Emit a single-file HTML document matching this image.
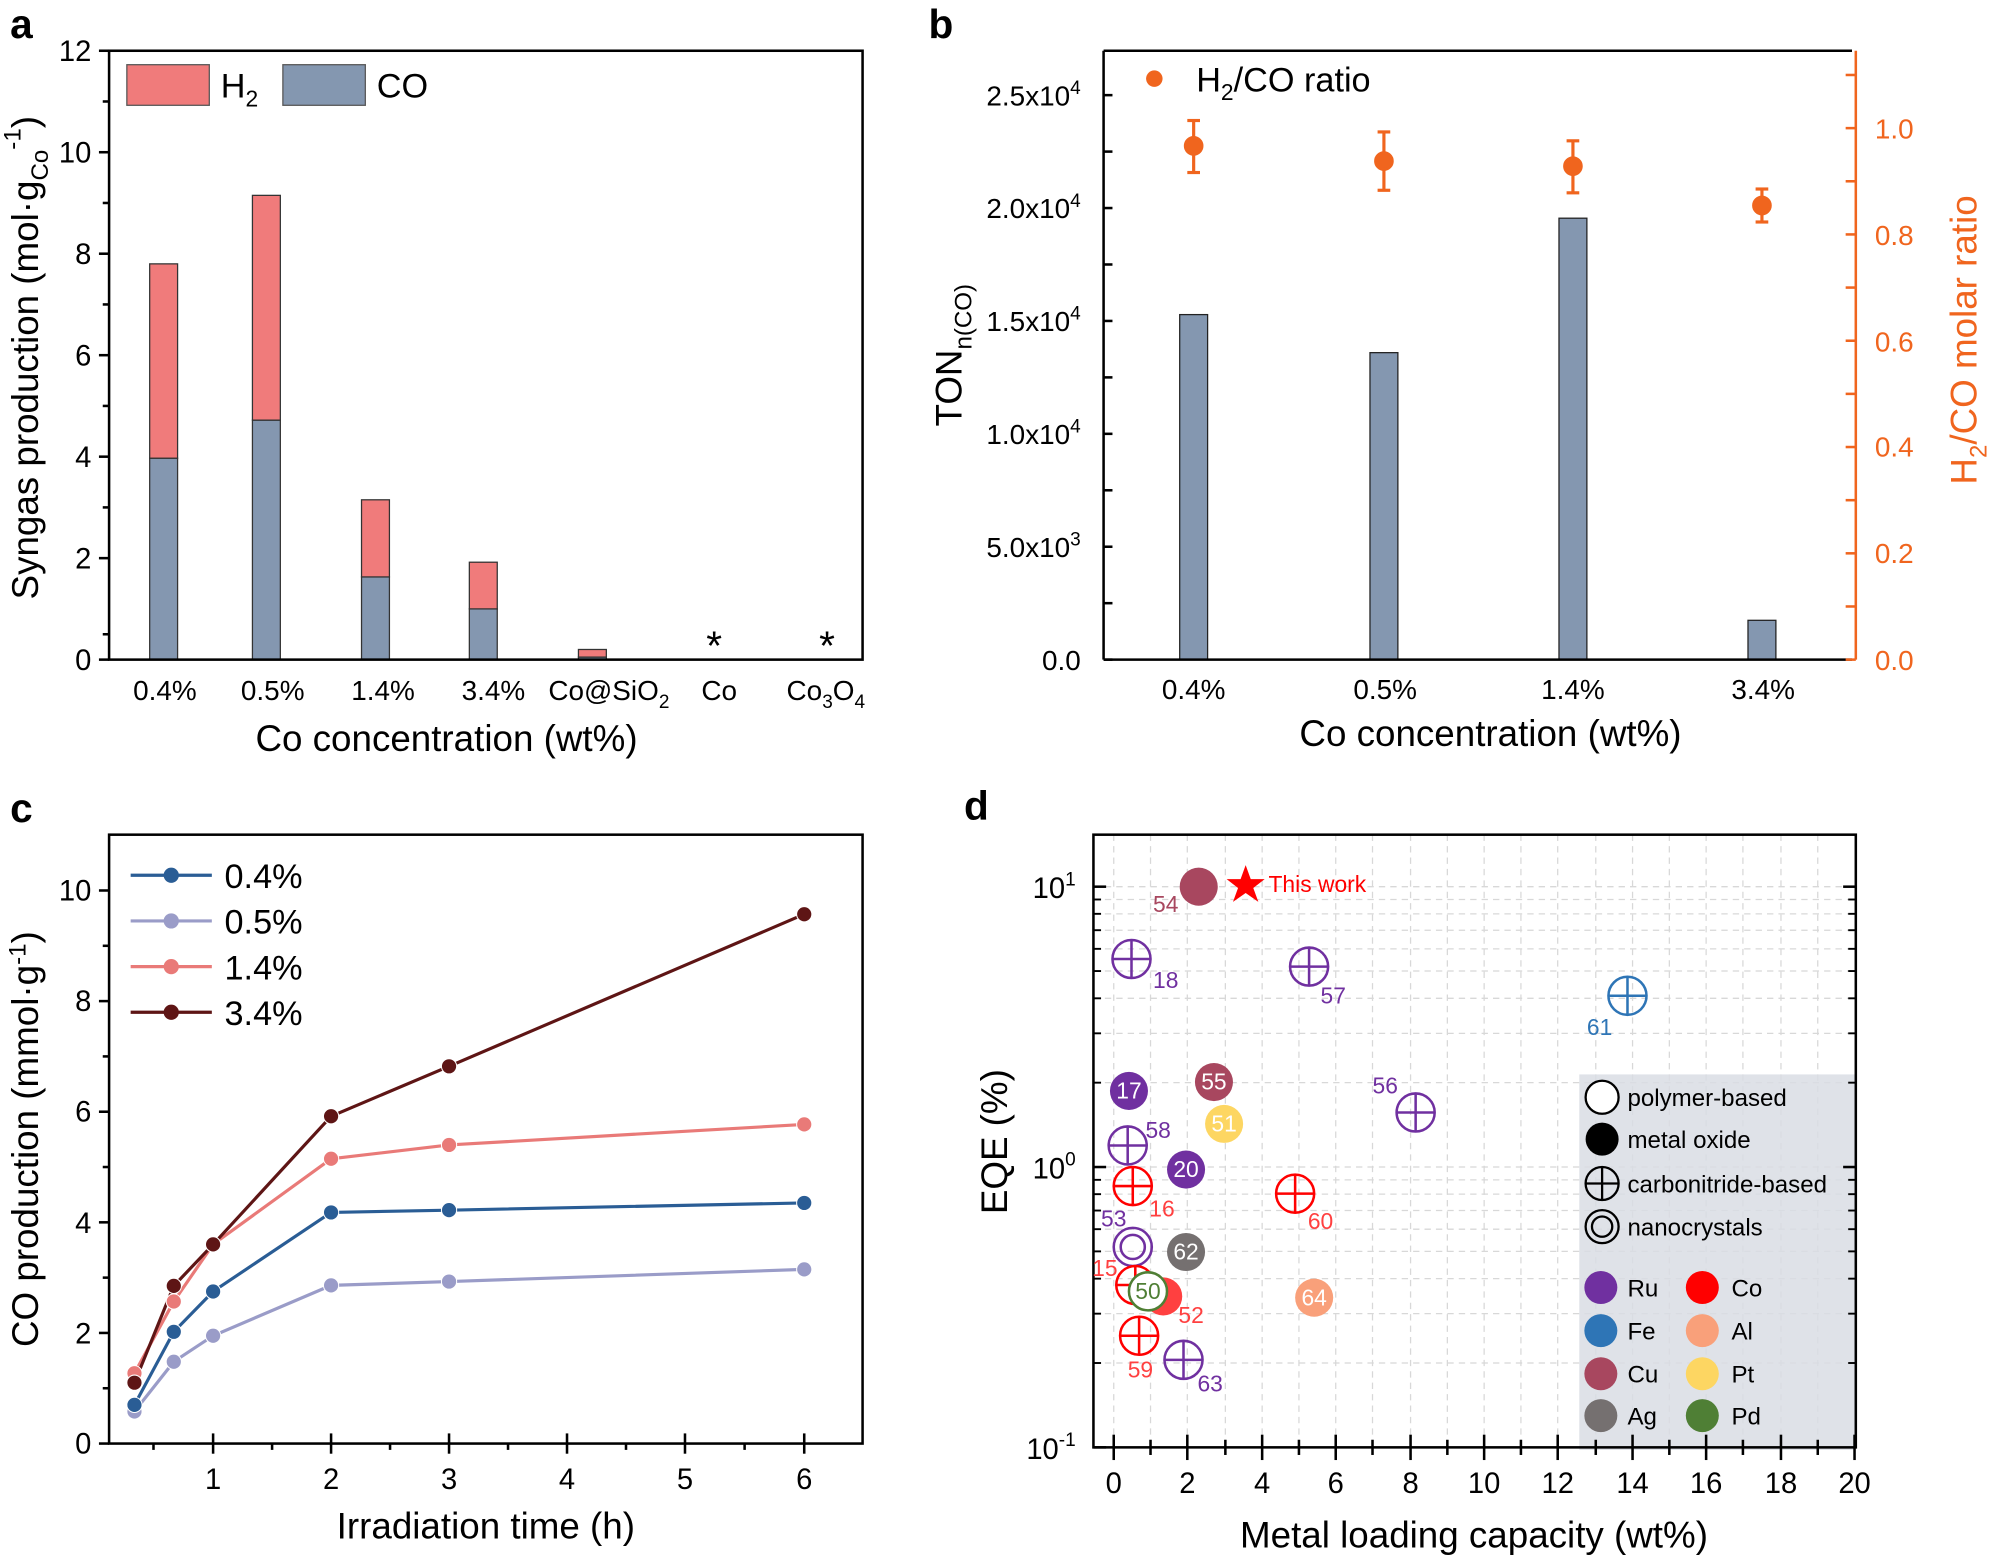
<!DOCTYPE html>
<html><head><meta charset="utf-8"><style>html,body{margin:0;padding:0;background:#fff}svg{display:block}text{font-family:"Liberation Sans",sans-serif}</style></head>
<body>
<svg width="1989" height="1559" viewBox="0 0 1568 1229" xmlns="http://www.w3.org/2000/svg">
<rect width="1568" height="1229" fill="#fff"/>

<!-- ===== Panel a ===== -->
<text x="8" y="30" font-size="32" font-weight="bold">a</text>
<g fill="#8497b0" stroke="#333" stroke-width="1">
<rect x="118" y="361.2" width="22" height="158.8"/>
<rect x="199" y="331.2" width="22" height="188.8"/>
<rect x="285" y="454.8" width="22" height="65.2"/>
<rect x="370" y="480" width="22" height="40"/>
<rect x="456" y="518" width="22" height="2"/>
</g>
<g fill="#f07b7b" stroke="#333" stroke-width="1">
<rect x="118" y="208" width="22" height="153.2"/>
<rect x="199" y="154" width="22" height="177.2"/>
<rect x="285" y="394" width="22" height="60.8"/>
<rect x="370" y="443.2" width="22" height="36.8"/>
<rect x="456" y="512" width="22" height="6"/>
</g>
<text x="563" y="520" font-size="32" text-anchor="middle">*</text>
<text x="652" y="520" font-size="32" text-anchor="middle">*</text>
<rect x="86" y="40" width="594" height="480" fill="none" stroke="#000" stroke-width="2"/>
<g stroke="#000" stroke-width="2">
<line x1="78" y1="520" x2="86" y2="520"/><line x1="81" y1="500" x2="86" y2="500"/>
<line x1="78" y1="440" x2="86" y2="440"/><line x1="81" y1="400" x2="86" y2="400"/>
<line x1="78" y1="360" x2="86" y2="360"/><line x1="81" y1="320" x2="86" y2="320"/>
<line x1="78" y1="280" x2="86" y2="280"/><line x1="81" y1="240" x2="86" y2="240"/>
<line x1="78" y1="200" x2="86" y2="200"/><line x1="81" y1="160" x2="86" y2="160"/>
<line x1="78" y1="120" x2="86" y2="120"/><line x1="81" y1="80" x2="86" y2="80"/>
<line x1="78" y1="40" x2="86" y2="40"/>
</g>
<g font-size="23" text-anchor="end">
<text x="72" y="528">0</text><text x="72" y="448">2</text><text x="72" y="368">4</text>
<text x="72" y="288">6</text><text x="72" y="208">8</text><text x="72" y="128">10</text><text x="72" y="48">12</text>
</g>
<g font-size="22" text-anchor="middle">
<text x="130" y="552">0.4%</text><text x="215" y="552">0.5%</text><text x="302" y="552">1.4%</text>
<text x="389" y="552">3.4%</text><text x="480" y="552">Co@SiO<tspan font-size="15" dy="6">2</tspan></text>
<text x="567" y="552">Co</text><text x="651" y="552">Co<tspan font-size="15" dy="6">3</tspan><tspan dy="-6">O</tspan><tspan font-size="15" dy="6">4</tspan></text>
</g>
<text x="352" y="592" font-size="29" text-anchor="middle">Co concentration (wt%)</text>
<text transform="translate(30,282) rotate(-90)" font-size="29" text-anchor="middle">Syngas production (mol·g<tspan font-size="19" dy="8">Co</tspan><tspan font-size="19" dy="-22">-1</tspan><tspan dy="14">)</tspan></text>
<rect x="100" y="51" width="65" height="32" fill="#f07b7b" stroke="#555" stroke-width="1"/>
<text x="174" y="77" font-size="27">H<tspan font-size="18" dy="7">2</tspan></text>
<rect x="223" y="51" width="65" height="32" fill="#8497b0" stroke="#555" stroke-width="1"/>
<text x="297" y="77" font-size="27">CO</text>

<!-- ===== Panel b ===== -->
<text x="732" y="30" font-size="32" font-weight="bold">b</text>
<g fill="#8497b0" stroke="#222" stroke-width="1">
<rect x="930" y="248" width="22" height="272"/>
<rect x="1080" y="278" width="22" height="242"/>
<rect x="1229" y="172" width="22" height="348"/>
<rect x="1378" y="489" width="22" height="31"/>
</g>
<g stroke="#000" stroke-width="2">
<line x1="870" y1="40" x2="1460" y2="40"/>
<line x1="870" y1="40" x2="870" y2="520"/>
<line x1="870" y1="520" x2="1460" y2="520"/>
<line x1="870" y1="520" x2="877" y2="520"/><line x1="870" y1="475.5" x2="877" y2="475.5"/>
<line x1="870" y1="431" x2="877" y2="431"/><line x1="870" y1="386.5" x2="877" y2="386.5"/>
<line x1="870" y1="342" x2="877" y2="342"/><line x1="870" y1="297.5" x2="877" y2="297.5"/>
<line x1="870" y1="253" x2="877" y2="253"/><line x1="870" y1="208.5" x2="877" y2="208.5"/>
<line x1="870" y1="164" x2="877" y2="164"/><line x1="870" y1="119.5" x2="877" y2="119.5"/>
<line x1="870" y1="75" x2="877" y2="75"/>
</g>
<g stroke="#f0651e" stroke-width="2">
<line x1="1463" y1="40" x2="1463" y2="520"/>
<line x1="1455" y1="520" x2="1463" y2="520"/><line x1="1455" y1="478.1" x2="1463" y2="478.1"/>
<line x1="1455" y1="436.2" x2="1463" y2="436.2"/><line x1="1455" y1="394.3" x2="1463" y2="394.3"/>
<line x1="1455" y1="352.4" x2="1463" y2="352.4"/><line x1="1455" y1="310.5" x2="1463" y2="310.5"/>
<line x1="1455" y1="268.6" x2="1463" y2="268.6"/><line x1="1455" y1="226.7" x2="1463" y2="226.7"/>
<line x1="1455" y1="184.8" x2="1463" y2="184.8"/><line x1="1455" y1="142.9" x2="1463" y2="142.9"/>
<line x1="1455" y1="101" x2="1463" y2="101"/><line x1="1455" y1="59.1" x2="1463" y2="59.1"/>
</g>
<g font-size="22" text-anchor="end">
<text x="852" y="528">0.0</text>
<text x="852" y="439">5.0x10<tspan font-size="15" dy="-9">3</tspan></text>
<text x="852" y="350">1.0x10<tspan font-size="15" dy="-9">4</tspan></text>
<text x="852" y="261">1.5x10<tspan font-size="15" dy="-9">4</tspan></text>
<text x="852" y="172">2.0x10<tspan font-size="15" dy="-9">4</tspan></text>
<text x="852" y="83">2.5x10<tspan font-size="15" dy="-9">4</tspan></text>
</g>
<g font-size="22" fill="#f0651e">
<text x="1478" y="528">0.0</text><text x="1478" y="444">0.2</text><text x="1478" y="360">0.4</text>
<text x="1478" y="277">0.6</text><text x="1478" y="193">0.8</text><text x="1478" y="109">1.0</text>
</g>
<g font-size="22" text-anchor="middle">
<text x="941" y="551">0.4%</text><text x="1092" y="551">0.5%</text><text x="1240" y="551">1.4%</text><text x="1390" y="551">3.4%</text>
</g>
<text x="1175" y="588" font-size="29" text-anchor="middle">Co concentration (wt%)</text>
<text transform="translate(758,280) rotate(-90)" font-size="29" text-anchor="middle">TON<tspan font-size="19" dy="8">n(CO)</tspan></text>
<text transform="translate(1558,268) rotate(-90)" font-size="29" text-anchor="middle" fill="#f0651e">H<tspan font-size="19" dy="8">2</tspan><tspan dy="-8">/CO molar ratio</tspan></text>
<g stroke="#f0651e" stroke-width="2.5" fill="#f0651e">
<line x1="941" y1="95" x2="941" y2="136"/><line x1="936" y1="95" x2="946" y2="95"/><line x1="936" y1="136" x2="946" y2="136"/><circle cx="941" cy="115" r="6.5"/>
<line x1="1091" y1="104" x2="1091" y2="150"/><line x1="1086" y1="104" x2="1096" y2="104"/><line x1="1086" y1="150" x2="1096" y2="150"/><circle cx="1091" cy="127" r="6.5"/>
<line x1="1240" y1="111" x2="1240" y2="152"/><line x1="1235" y1="111" x2="1245" y2="111"/><line x1="1235" y1="152" x2="1245" y2="152"/><circle cx="1240" cy="131" r="6.5"/>
<line x1="1389" y1="149" x2="1389" y2="175"/><line x1="1384" y1="149" x2="1394" y2="149"/><line x1="1384" y1="175" x2="1394" y2="175"/><circle cx="1389" cy="162" r="6.5"/>
<circle cx="910" cy="62" r="6.5" stroke="none"/>
</g>
<text x="943" y="72" font-size="27">H<tspan font-size="18" dy="7">2</tspan><tspan dy="-7">/CO ratio</tspan></text>

<!-- ===== Panel c ===== -->
<text x="8" y="648" font-size="32" font-weight="bold">c</text>
<rect x="86" y="658" width="594" height="480" fill="none" stroke="#000" stroke-width="2"/>
<g stroke="#000" stroke-width="2">
<line x1="78" y1="1138" x2="86" y2="1138"/><line x1="81" y1="1094.4" x2="86" y2="1094.4"/>
<line x1="78" y1="1050.8" x2="86" y2="1050.8"/><line x1="81" y1="1007.2" x2="86" y2="1007.2"/>
<line x1="78" y1="963.6" x2="86" y2="963.6"/><line x1="81" y1="920" x2="86" y2="920"/>
<line x1="78" y1="876.4" x2="86" y2="876.4"/><line x1="81" y1="832.8" x2="86" y2="832.8"/>
<line x1="78" y1="789.2" x2="86" y2="789.2"/><line x1="81" y1="745.6" x2="86" y2="745.6"/>
<line x1="78" y1="702" x2="86" y2="702"/>
<line x1="168" y1="1130" x2="168" y2="1146"/><line x1="261" y1="1130" x2="261" y2="1146"/>
<line x1="354" y1="1130" x2="354" y2="1146"/><line x1="447" y1="1130" x2="447" y2="1146"/>
<line x1="540" y1="1130" x2="540" y2="1146"/><line x1="634" y1="1130" x2="634" y2="1146"/>
<line x1="121" y1="1138" x2="121" y2="1143"/><line x1="214.5" y1="1138" x2="214.5" y2="1143"/>
<line x1="307.5" y1="1138" x2="307.5" y2="1143"/><line x1="400.5" y1="1138" x2="400.5" y2="1143"/>
<line x1="493.5" y1="1138" x2="493.5" y2="1143"/><line x1="587" y1="1138" x2="587" y2="1143"/>
</g>
<g font-size="23" text-anchor="end">
<text x="72" y="1146">0</text><text x="72" y="1059">2</text><text x="72" y="972">4</text>
<text x="72" y="884">6</text><text x="72" y="797">8</text><text x="72" y="710">10</text>
</g>
<g font-size="23" text-anchor="middle">
<text x="168" y="1174">1</text><text x="261" y="1174">2</text><text x="354" y="1174">3</text>
<text x="447" y="1174">4</text><text x="540" y="1174">5</text><text x="634" y="1174">6</text>
</g>
<text x="383" y="1213" font-size="29" text-anchor="middle">Irradiation time (h)</text>
<text transform="translate(30,898) rotate(-90)" font-size="29" text-anchor="middle">CO production (mmol·g<tspan font-size="19" dy="-10">-1</tspan><tspan dy="10">)</tspan></text>
<g fill="none" stroke-width="2.5">
<polyline stroke="#9a9cc8" points="106,1112.7 137,1073.5 168,1053 261,1013.3 354,1010.3 634,1000.7"/>
<polyline stroke="#2a5d95" points="106,1107.5 137,1049.9 168,1018.1 261,955.8 354,954 634,948.3"/>
<polyline stroke="#e97a78" points="106,1082.6 137,1026 168,981 261,913.5 354,902.6 634,886.4"/>
<polyline stroke="#5e1515" points="106,1090 137,1013.7 168,981 261,880 354,840.6 634,720.7"/>
</g>
<g stroke="#fff" stroke-width="0.8">
<g fill="#9a9cc8"><circle cx="106" cy="1112.7" r="6"/><circle cx="137" cy="1073.5" r="6"/><circle cx="168" cy="1053" r="6"/><circle cx="261" cy="1013.3" r="6"/><circle cx="354" cy="1010.3" r="6"/><circle cx="634" cy="1000.7" r="6"/></g>
<g fill="#2a5d95"><circle cx="106" cy="1107.5" r="6"/><circle cx="137" cy="1049.9" r="6"/><circle cx="168" cy="1018.1" r="6"/><circle cx="261" cy="955.8" r="6"/><circle cx="354" cy="954" r="6"/><circle cx="634" cy="948.3" r="6"/></g>
<g fill="#e97a78"><circle cx="106" cy="1082.6" r="6"/><circle cx="137" cy="1026" r="6"/><circle cx="168" cy="981" r="6"/><circle cx="261" cy="913.5" r="6"/><circle cx="354" cy="902.6" r="6"/><circle cx="634" cy="886.4" r="6"/></g>
<g fill="#5e1515"><circle cx="106" cy="1090" r="6"/><circle cx="137" cy="1013.7" r="6"/><circle cx="168" cy="981" r="6"/><circle cx="261" cy="880" r="6"/><circle cx="354" cy="840.6" r="6"/><circle cx="634" cy="720.7" r="6"/></g>
</g>
<g stroke-width="2.5">
<line x1="103" y1="690" x2="167" y2="690" stroke="#2a5d95"/><circle cx="135" cy="690" r="6" fill="#2a5d95"/>
<line x1="103" y1="726" x2="167" y2="726" stroke="#9a9cc8"/><circle cx="135" cy="726" r="6" fill="#9a9cc8"/>
<line x1="103" y1="762" x2="167" y2="762" stroke="#e97a78"/><circle cx="135" cy="762" r="6" fill="#e97a78"/>
<line x1="103" y1="798" x2="167" y2="798" stroke="#5e1515"/><circle cx="135" cy="798" r="6" fill="#5e1515"/>
</g>
<g font-size="27">
<text x="177" y="700">0.4%</text><text x="177" y="736">0.5%</text><text x="177" y="772">1.4%</text><text x="177" y="808">3.4%</text>
</g>

<!-- ===== Panel d ===== -->
<text x="760" y="646" font-size="32" font-weight="bold">d</text>
<g stroke="#d8d8d8" stroke-width="1" stroke-dasharray="5,4">
<line x1="878" y1="658" x2="878" y2="1141"/><line x1="907" y1="658" x2="907" y2="1141"/><line x1="936" y1="658" x2="936" y2="1141"/><line x1="966" y1="658" x2="966" y2="1141"/><line x1="995" y1="658" x2="995" y2="1141"/><line x1="1024" y1="658" x2="1024" y2="1141"/><line x1="1053" y1="658" x2="1053" y2="1141"/><line x1="1082" y1="658" x2="1082" y2="1141"/><line x1="1112" y1="658" x2="1112" y2="1141"/><line x1="1141" y1="658" x2="1141" y2="1141"/><line x1="1170" y1="658" x2="1170" y2="1141"/><line x1="1199" y1="658" x2="1199" y2="1141"/><line x1="1228" y1="658" x2="1228" y2="1141"/><line x1="1258" y1="658" x2="1258" y2="1141"/><line x1="1287" y1="658" x2="1287" y2="1141"/><line x1="1316" y1="658" x2="1316" y2="1141"/><line x1="1345" y1="658" x2="1345" y2="1141"/><line x1="1374" y1="658" x2="1374" y2="1141"/><line x1="1404" y1="658" x2="1404" y2="1141"/><line x1="1433" y1="658" x2="1433" y2="1141"/>
<line x1="862" y1="1074.5" x2="1463" y2="1074.5"/><line x1="862" y1="1035.6" x2="1463" y2="1035.6"/><line x1="862" y1="1008" x2="1463" y2="1008"/><line x1="862" y1="986.5" x2="1463" y2="986.5"/><line x1="862" y1="969" x2="1463" y2="969"/><line x1="862" y1="954.3" x2="1463" y2="954.3"/><line x1="862" y1="941.4" x2="1463" y2="941.4"/><line x1="862" y1="930.1" x2="1463" y2="930.1"/><line x1="862" y1="920" x2="1463" y2="920"/>
<line x1="862" y1="853.5" x2="1463" y2="853.5"/><line x1="862" y1="814.6" x2="1463" y2="814.6"/><line x1="862" y1="787" x2="1463" y2="787"/><line x1="862" y1="765.5" x2="1463" y2="765.5"/><line x1="862" y1="748" x2="1463" y2="748"/><line x1="862" y1="733.3" x2="1463" y2="733.3"/><line x1="862" y1="720.4" x2="1463" y2="720.4"/><line x1="862" y1="709.1" x2="1463" y2="709.1"/><line x1="862" y1="699" x2="1463" y2="699"/>
</g>
<rect x="1245" y="847" width="218" height="296" fill="#d9dde4" opacity="0.85"/>
<rect x="862" y="658" width="601" height="483" fill="none" stroke="#000" stroke-width="2"/>
<g stroke="#000" stroke-width="2">
<line x1="862" y1="1141" x2="872" y2="1141"/><line x1="862" y1="920" x2="872" y2="920"/><line x1="862" y1="699" x2="872" y2="699"/>
<line x1="1453" y1="920" x2="1463" y2="920"/><line x1="1453" y1="699" x2="1463" y2="699"/>
</g>
<g stroke="#000" stroke-width="1.5">
<line x1="862" y1="1074.5" x2="868" y2="1074.5"/><line x1="862" y1="1035.6" x2="868" y2="1035.6"/><line x1="862" y1="1008" x2="868" y2="1008"/><line x1="862" y1="986.5" x2="868" y2="986.5"/><line x1="862" y1="969" x2="868" y2="969"/><line x1="862" y1="954.3" x2="868" y2="954.3"/><line x1="862" y1="941.4" x2="868" y2="941.4"/><line x1="862" y1="930.1" x2="868" y2="930.1"/>
<line x1="862" y1="853.5" x2="868" y2="853.5"/><line x1="862" y1="814.6" x2="868" y2="814.6"/><line x1="862" y1="787" x2="868" y2="787"/><line x1="862" y1="765.5" x2="868" y2="765.5"/><line x1="862" y1="748" x2="868" y2="748"/><line x1="862" y1="733.3" x2="868" y2="733.3"/><line x1="862" y1="720.4" x2="868" y2="720.4"/><line x1="862" y1="709.1" x2="868" y2="709.1"/>
<line x1="1457" y1="1074.5" x2="1463" y2="1074.5"/><line x1="1457" y1="1035.6" x2="1463" y2="1035.6"/><line x1="1457" y1="1008" x2="1463" y2="1008"/><line x1="1457" y1="986.5" x2="1463" y2="986.5"/><line x1="1457" y1="969" x2="1463" y2="969"/><line x1="1457" y1="954.3" x2="1463" y2="954.3"/><line x1="1457" y1="941.4" x2="1463" y2="941.4"/><line x1="1457" y1="930.1" x2="1463" y2="930.1"/>
<line x1="1457" y1="853.5" x2="1463" y2="853.5"/><line x1="1457" y1="814.6" x2="1463" y2="814.6"/><line x1="1457" y1="787" x2="1463" y2="787"/><line x1="1457" y1="765.5" x2="1463" y2="765.5"/><line x1="1457" y1="748" x2="1463" y2="748"/><line x1="1457" y1="733.3" x2="1463" y2="733.3"/><line x1="1457" y1="720.4" x2="1463" y2="720.4"/><line x1="1457" y1="709.1" x2="1463" y2="709.1"/>
</g>
<g stroke="#000" stroke-width="2">
<line x1="878" y1="1131" x2="878" y2="1151"/><line x1="936" y1="1131" x2="936" y2="1151"/><line x1="995" y1="1131" x2="995" y2="1151"/><line x1="1053" y1="1131" x2="1053" y2="1151"/><line x1="1112" y1="1131" x2="1112" y2="1151"/><line x1="1170" y1="1131" x2="1170" y2="1151"/><line x1="1228" y1="1131" x2="1228" y2="1151"/><line x1="1287" y1="1131" x2="1287" y2="1151"/><line x1="1345" y1="1131" x2="1345" y2="1151"/><line x1="1404" y1="1131" x2="1404" y2="1151"/><line x1="1462" y1="1131" x2="1462" y2="1151"/>
<line x1="907" y1="1135" x2="907" y2="1147"/><line x1="966" y1="1135" x2="966" y2="1147"/><line x1="1024" y1="1135" x2="1024" y2="1147"/><line x1="1082" y1="1135" x2="1082" y2="1147"/><line x1="1141" y1="1135" x2="1141" y2="1147"/><line x1="1199" y1="1135" x2="1199" y2="1147"/><line x1="1258" y1="1135" x2="1258" y2="1147"/><line x1="1316" y1="1135" x2="1316" y2="1147"/><line x1="1374" y1="1135" x2="1374" y2="1147"/><line x1="1433" y1="1135" x2="1433" y2="1147"/>
</g>
<g font-size="23" text-anchor="middle">
<text x="878" y="1177">0</text><text x="936" y="1177">2</text><text x="995" y="1177">4</text><text x="1053" y="1177">6</text><text x="1112" y="1177">8</text><text x="1170" y="1177">10</text><text x="1228" y="1177">12</text><text x="1287" y="1177">14</text><text x="1345" y="1177">16</text><text x="1404" y="1177">18</text><text x="1462" y="1177">20</text>
</g>
<g font-size="23" text-anchor="end">
<text x="848" y="708">10<tspan font-size="15" dy="-10">1</tspan></text>
<text x="848" y="929">10<tspan font-size="15" dy="-10">0</tspan></text>
<text x="848" y="1150">10<tspan font-size="15" dy="-10">-1</tspan></text>
</g>
<text x="1162" y="1220" font-size="29" text-anchor="middle">Metal loading capacity (wt%)</text>
<text transform="translate(794,900) rotate(-90)" font-size="29" text-anchor="middle">EQE (%)</text>

<!-- data markers -->
<g stroke-width="2" fill="none">
<g stroke="#7030a0">
<circle cx="892" cy="756" r="15"/><line x1="877" y1="756" x2="907" y2="756"/><line x1="892" y1="741" x2="892" y2="771"/>
<circle cx="1032" cy="762" r="15"/><line x1="1017" y1="762" x2="1047" y2="762"/><line x1="1032" y1="747" x2="1032" y2="777"/>
<circle cx="889" cy="903" r="15"/><line x1="874" y1="903" x2="904" y2="903"/><line x1="889" y1="888" x2="889" y2="918"/>
<circle cx="1116" cy="877" r="15"/><line x1="1101" y1="877" x2="1131" y2="877"/><line x1="1116" y1="862" x2="1116" y2="892"/>
<circle cx="933" cy="1072" r="15"/><line x1="918" y1="1072" x2="948" y2="1072"/><line x1="933" y1="1057" x2="933" y2="1087"/>
<circle cx="893" cy="983" r="15"/><circle cx="893" cy="983" r="9.5"/>
</g>
<g stroke="#2e75b6"><circle cx="1283" cy="785" r="15"/><line x1="1268" y1="785" x2="1298" y2="785"/><line x1="1283" y1="770" x2="1283" y2="800"/></g>
<g stroke="#ff0000">
<circle cx="893" cy="935" r="15"/><line x1="878" y1="935" x2="908" y2="935"/><line x1="893" y1="920" x2="893" y2="950"/>
<circle cx="1021" cy="941" r="15"/><line x1="1006" y1="941" x2="1036" y2="941"/><line x1="1021" y1="926" x2="1021" y2="956"/>
<circle cx="898" cy="1053" r="15"/><line x1="883" y1="1053" x2="913" y2="1053"/><line x1="898" y1="1038" x2="898" y2="1068"/>
<circle cx="895" cy="1013" r="15"/><line x1="880" y1="1013" x2="910" y2="1013"/><line x1="895" y1="998" x2="895" y2="1028"/>
</g>
</g>
<circle cx="917" cy="1022" r="15" fill="#ff4040"/>
<circle cx="905" cy="1018" r="15" fill="#fff" stroke="#4f7f35" stroke-width="2"/>
<circle cx="945" cy="699" r="15" fill="#a8475f"/>
<circle cx="890" cy="860" r="15" fill="#7030a0"/>
<circle cx="957" cy="853" r="15" fill="#a8475f"/>
<circle cx="965" cy="886" r="15" fill="#fdd662"/>
<circle cx="935" cy="922" r="15" fill="#7030a0"/>
<circle cx="935" cy="987" r="15" fill="#757070"/>
<circle cx="1036" cy="1023" r="15" fill="#f9a07a"/>
<g font-size="18" text-anchor="middle" fill="#fff">
<text x="890" y="866">17</text><text x="957" y="859">55</text><text x="965" y="892">51</text><text x="935" y="928">20</text><text x="935" y="993">62</text><text x="1036" y="1029">64</text>
<text x="905" y="1024" fill="#4f7f35">50</text>
</g>
<g font-size="18">
<text x="909" y="719" fill="#a8475f">54</text>
<text x="909" y="779" fill="#7030a0">18</text>
<text x="1041" y="791" fill="#7030a0">57</text>
<text x="1251" y="816" fill="#2e75b6">61</text>
<text x="1082" y="862" fill="#7030a0">56</text>
<text x="903" y="897" fill="#7030a0">58</text>
<text x="906" y="959" fill="#ff4040">16</text>
<text x="1031" y="969" fill="#ff4040">60</text>
<text x="868" y="967" fill="#7030a0">53</text>
<text x="861" y="1006" fill="#ff4040">15</text>
<text x="929" y="1043" fill="#ff4040">52</text>
<text x="889" y="1086" fill="#ff4040">59</text>
<text x="944" y="1097" fill="#7030a0">63</text>
</g>
<polygon points="982,682 986,693 997,693 988,700 992,711 982,704 972,711 976,700 967,693 978,693" fill="#ff0000"/>
<text x="1000" y="703" font-size="18" fill="#ff0000">This work</text>

<!-- legend -->
<circle cx="1263" cy="865" r="13" fill="#fff" stroke="#000" stroke-width="1.8"/>
<circle cx="1263" cy="898" r="13" fill="#000"/>
<g stroke="#000" stroke-width="1.8" fill="none">
<circle cx="1263" cy="933" r="13"/><line x1="1250" y1="933" x2="1276" y2="933"/><line x1="1263" y1="920" x2="1263" y2="946"/>
<circle cx="1263" cy="967" r="13"/><circle cx="1263" cy="967" r="8"/>
</g>
<g font-size="19">
<text x="1283" y="872">polymer-based</text><text x="1283" y="905">metal oxide</text><text x="1283" y="940">carbonitride-based</text><text x="1283" y="974">nanocrystals</text>
</g>
<circle cx="1262" cy="1015" r="13" fill="#7030a0"/><circle cx="1342" cy="1015" r="13" fill="#ff0000"/>
<circle cx="1262" cy="1049" r="13" fill="#2e75b6"/><circle cx="1342" cy="1049" r="13" fill="#f9a07a"/>
<circle cx="1262" cy="1083" r="13" fill="#a8475f"/><circle cx="1342" cy="1083" r="13" fill="#fdd662"/>
<circle cx="1262" cy="1116" r="13" fill="#757070"/><circle cx="1342" cy="1116" r="13" fill="#4f7f35"/>
<g font-size="19">
<text x="1283" y="1022">Ru</text><text x="1365" y="1022">Co</text>
<text x="1283" y="1056">Fe</text><text x="1365" y="1056">Al</text>
<text x="1283" y="1090">Cu</text><text x="1365" y="1090">Pt</text>
<text x="1283" y="1123">Ag</text><text x="1365" y="1123">Pd</text>
</g>
</svg>
</body></html>
